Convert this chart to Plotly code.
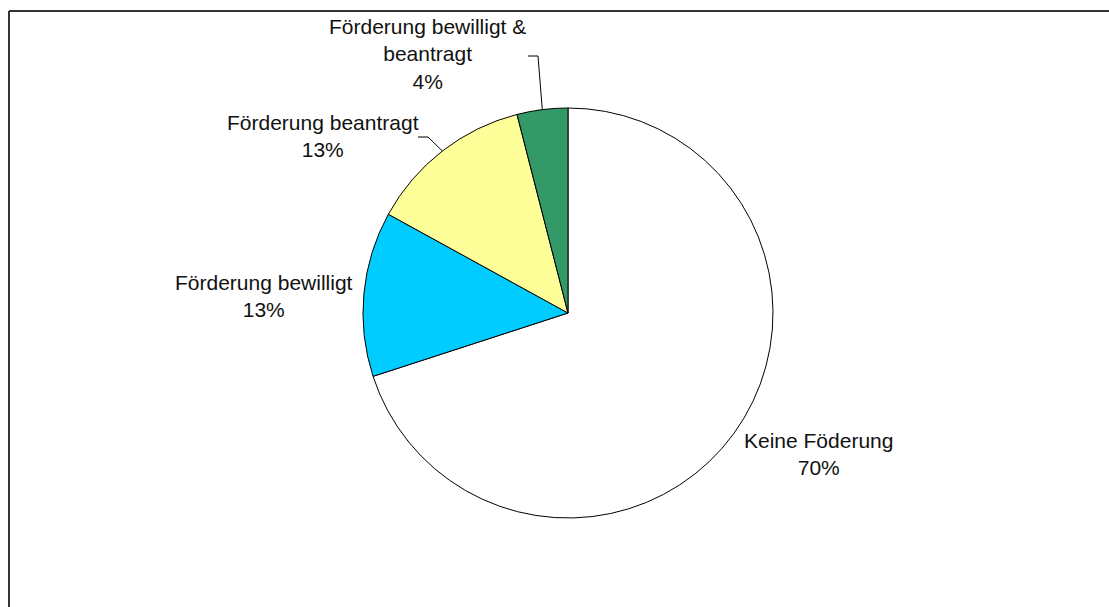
import math
import plotly.graph_objects as go

# Data
categories = ["Keine Föderung", "Förderung bewilligt", "Förderung beantragt",
              "Förderung bewilligt &<br>beantragt"]
shares = [70, 13, 13, 4]
colors = ["#FFFFFF", "#00CCFF", "#FFFF99", "#339966"]

# Canvas geometry (pixels)
W, H = 1109, 607
CX, CY, R = 568, 313, 205

# Label block centres (pixels) for each slice
label_pos = [(818, 454), (264, 296), (323, 136), (427, 54)]
# Leader line elbows (pixels) for slices whose label sits away from the rim
leader_elbow = {2: ((418, 137), (428, 137)), 3: ((528, 56), (538, 56))}


def px(x, y):
    return x / W, 1 - y / H


fig = go.Figure(go.Pie(
    labels=categories,
    values=shares,
    sort=False,
    direction="clockwise",
    rotation=0,
    marker=dict(colors=colors, line=dict(color="#000000", width=1)),
    textinfo="none",
    hoverinfo="label+percent",
    domain=dict(x=[(CX - R) / W, (CX + R) / W],
                y=[1 - (CY + R) / H, 1 - (CY - R) / H]),
    showlegend=False,
))

total = sum(shares)
annotations = []
shapes = []
start = 0.0
for i, (name, v) in enumerate(zip(categories, shares)):
    frac = v / total
    mid = (start + frac / 2) * 2 * math.pi  # clockwise from 12 o'clock
    start += frac
    lx, ly = label_pos[i]
    ax, ay = px(lx, ly)
    annotations.append(dict(
        x=ax, y=ay, xref="paper", yref="paper",
        text=f"{name}<br>{round(frac * 100)}%",
        showarrow=False, xanchor="center", yanchor="middle", align="center",
        font=dict(family="Arial, Liberation Sans, sans-serif", size=21, color="#111111"),
    ))
    if i in leader_elbow:
        rim = (CX + R * math.sin(mid), CY - R * math.cos(mid))
        (p0, p1) = leader_elbow[i]
        pts = [px(*p0), px(*p1), px(*rim)]
        path = "M {} {} L {} {} L {} {}".format(pts[0][0], pts[0][1], pts[1][0], pts[1][1],
                                               pts[2][0], pts[2][1])
        shapes.append(dict(type="path", xref="paper", yref="paper", path=path,
                           line=dict(color="#000000", width=1)))

# Outer frame (top and left edges visible within the canvas)
fx0, fy0 = px(9, 11)
shapes.append(dict(type="line", xref="paper", yref="paper",
                   x0=fx0, y0=fy0, x1=1.01, y1=fy0,
                   line=dict(color="#333333", width=2)))
shapes.append(dict(type="line", xref="paper", yref="paper",
                   x0=fx0, y0=fy0, x1=fx0, y1=-0.01,
                   line=dict(color="#333333", width=2)))

fig.update_layout(
    width=W, height=H,
    margin=dict(l=0, r=0, t=0, b=0),
    paper_bgcolor="#FFFFFF",
    plot_bgcolor="#FFFFFF",
    annotations=annotations,
    shapes=shapes,
)

fig.write_html("out.html")
